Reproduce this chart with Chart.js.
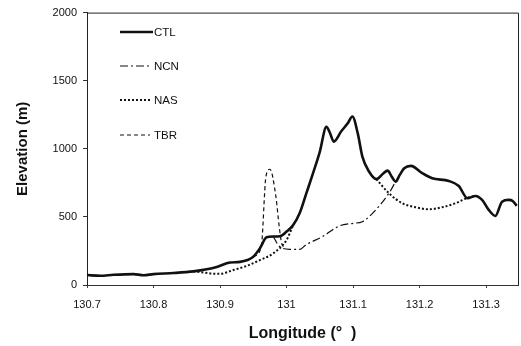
<!DOCTYPE html>
<html>
<head>
<meta charset="utf-8">
<script src="https://cdn.jsdelivr.net/npm/chart.js@4.4.1/dist/chart.umd.min.js"></script>
<style>
body { margin: 0; background: #fff; }
#wrap { width: 521px; height: 346px; }
</style>
</head>
<body>
<div id="wrap"><canvas id="elev" width="521" height="346"></canvas></div>
<script>
var seriesNames = ['CTL', 'NCN', 'NAS', 'TBR'];
var xTicks = [130.7, 130.8, 130.9, 131, 131.1, 131.2, 131.3];
var yTicks = [0, 500, 1000, 1500, 2000];

// control run terrain
var ctlLon = [130.70, 130.72, 130.74, 130.77, 130.785, 130.80, 130.83, 130.86, 130.88, 130.895,
  130.915, 130.93, 130.95, 130.96, 130.97, 130.98, 130.99, 131.00, 131.01, 131.02,
  131.03, 131.04, 131.05, 131.06, 131.065, 131.071, 131.082, 131.092, 131.099, 131.107,
  131.114, 131.124, 131.135, 131.145, 131.152, 131.158, 131.164, 131.170, 131.177, 131.187,
  131.204, 131.219, 131.244, 131.259, 131.272, 131.284, 131.294, 131.304, 131.314, 131.324,
  131.334, 131.340, 131.346];
var ctlElev = [73, 68, 75, 80, 72, 80, 88, 100, 115, 132,
  165, 170, 208, 270, 350, 356, 358, 392, 440, 530,
  676, 823, 978, 1162, 1120, 1053, 1127, 1187, 1237, 1115,
  943, 833, 777, 817, 840, 797, 759, 807, 857, 875,
  821, 784, 764, 727, 637, 654, 625, 551, 507, 612,
  625, 617, 581];

// only where it leaves CTL
var ncnLon = [130.98, 130.989, 131.005, 131.02, 131.029, 131.054, 131.079, 131.10, 131.114, 131.134, 131.154, 131.164];
var ncnElev = [356, 285, 262, 262, 294, 355, 433, 453, 465, 551, 674, 759];

var nasLon = [130.86, 130.87, 130.885, 130.90, 130.92, 130.94, 130.96, 130.98, 131.00, 131.01,
  131.05,
  131.135, 131.154, 131.174, 131.194, 131.214, 131.234, 131.254, 131.274, 131.284];
var nasElev = [100, 95, 85, 82, 110, 140, 183, 232, 330, 440,
  null,
  777, 674, 600, 571, 556, 571, 600, 644, 654];

var tbrLon = [130.95, 130.962, 130.969, 130.975, 130.984, 130.989, 130.993, 130.998];
var tbrElev = [208, 281, 796, 850, 649, 428, 300, 275];

function pts(lon, elev) {
  return lon.map(function(x, i) { return { x: x, y: elev[i] }; });
}

var fontFam = '"Liberation Sans", Arial, sans-serif';

var sideLegend = {
  id: 'sideLegend',
  afterDraw: function(chart) {
    var ctx = chart.ctx;
    var a = chart.chartArea;
    ctx.save();
    // frame top and right
    ctx.strokeStyle = '#222';
    ctx.lineWidth = 1;
    ctx.beginPath();
    ctx.moveTo(a.left, a.top + 0.5);
    ctx.lineTo(a.right + 0.5, a.top + 0.5);
    ctx.lineTo(a.right + 0.5, a.bottom);
    ctx.stroke();

    var rows = [32, 66, 100, 135];
    ctx.font = '11.5px ' + fontFam;
    ctx.textBaseline = 'middle';
    chart.data.datasets.forEach(function(ds, i) {
      ctx.strokeStyle = '#111';
      ctx.lineWidth = ds.borderWidth;
      ctx.setLineDash(ds.borderDash || []);
      ctx.beginPath();
      ctx.moveTo(120, rows[i]);
      ctx.lineTo(i === 0 ? 153 : 150, rows[i]);
      ctx.stroke();
      ctx.setLineDash([]);
      ctx.fillStyle = '#111';
      ctx.fillText(ds.label, 154, rows[i] + 1);
    });
    ctx.restore();
  }
};

var elevChart = new Chart(document.getElementById('elev').getContext('2d'), {
  type: 'line',
  data: {
    datasets: [{
      label: seriesNames[0],
      data: pts(ctlLon, ctlElev),
      borderColor: '#111',
      borderWidth: 2.6
    }, {
      label: seriesNames[1],
      data: pts(ncnLon, ncnElev),
      borderColor: '#111',
      borderWidth: 1.2,
      borderDash: [8, 3, 2, 3]
    }, {
      label: seriesNames[2],
      data: pts(nasLon, nasElev),
      borderColor: '#111',
      borderWidth: 2,
      borderDash: [2, 2]
    }, {
      label: seriesNames[3],
      data: pts(tbrLon, tbrElev),
      borderColor: '#111',
      borderWidth: 1.2,
      borderDash: [4, 3]
    }]
  },
  options: {
    responsive: false,
    animation: false,
    spanGaps: false,
    elements: {
      point: { radius: 0 },
      line: { cubicInterpolationMode: 'monotone', fill: false }
    },
    layout: { padding: { top: 12, right: 3, left: 0, bottom: 0 } },
    plugins: {
      legend: { display: false },
      tooltip: { enabled: false }
    },
    scales: {
      x: {
        type: 'linear',
        min: 130.7,
        max: 131.348,
        afterBuildTicks: function(scale) {
          scale.ticks = xTicks.map(function(v) { return { value: v }; });
        },
        afterFit: function(scale) { scale.height = 61; },
        grid: { drawOnChartArea: false, tickLength: 3, color: '#444' },
        border: { color: '#333', width: 1, dash: [1, 1.5] },
        ticks: {
          color: '#111',
          padding: 10,
          maxRotation: 0,
          font: { family: fontFam, size: 11 },
          callback: function(v) { return String(Math.round(v * 10) / 10); }
        },
        title: {
          display: true,
          text: 'Longitude (°  )',
          color: '#111',
          padding: { top: 0, bottom: 3 },
          font: { family: fontFam, size: 16, weight: 'bold' }
        }
      },
      y: {
        min: 0,
        max: 2000,
        afterBuildTicks: function(scale) {
          scale.ticks = yTicks.map(function(v) { return { value: v }; });
        },
        afterFit: function(scale) { scale.width = 87; },
        grid: { drawOnChartArea: false, tickLength: 4, color: '#333' },
        border: { color: '#222', width: 1 },
        ticks: {
          color: '#111',
          padding: 6,
          font: { family: fontFam, size: 11 },
          callback: function(v) { return String(v); }
        },
        title: {
          display: true,
          text: 'Elevation (m)',
          color: '#111',
          padding: { top: 14, bottom: 0 },
          font: { family: fontFam, size: 15, weight: 'bold' }
        }
      }
    }
  },
  plugins: [sideLegend]
});
</script>
</body>
</html>
